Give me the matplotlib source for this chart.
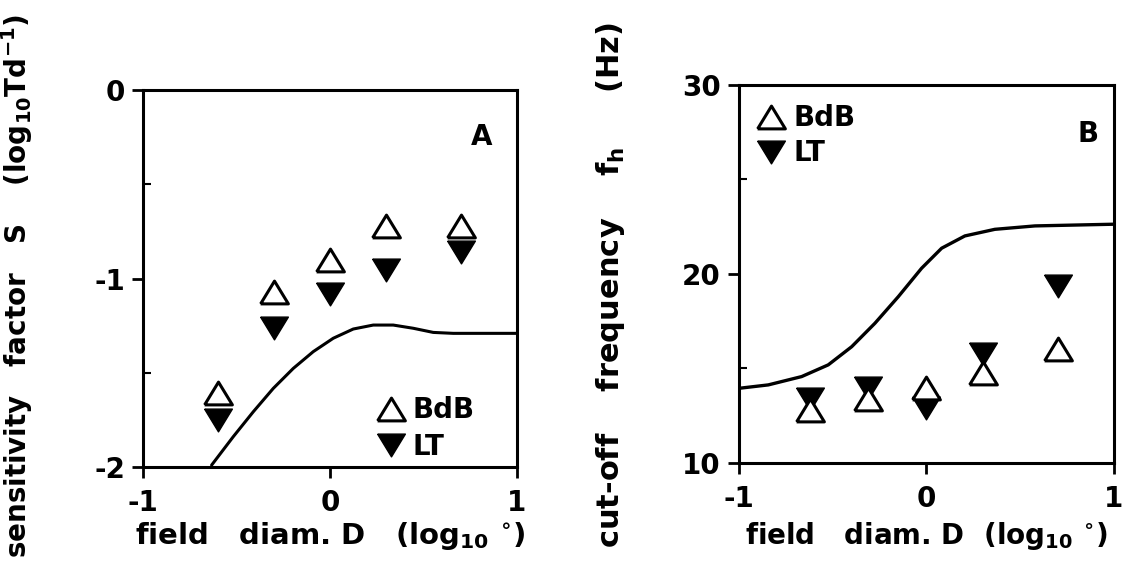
import matplotlib
matplotlib.use("Agg")
import matplotlib.pyplot as plt
from matplotlib.ticker import FixedLocator

plt.rcParams['font.family'] = ['DejaVu Sans']
plt.rcParams['font.weight'] = 'bold'
plt.rcParams['mathtext.fontset'] = 'custom'
plt.rcParams['mathtext.rm'] = 'DejaVu Sans:bold'
plt.rcParams['mathtext.it'] = 'DejaVu Sans:bold'
plt.rcParams['mathtext.bf'] = 'DejaVu Sans:bold'
plt.rcParams['mathtext.default'] = 'rm'

# ---- data ----
x_field = [-0.6, -0.3, 0.0, 0.3, 0.7]

# Panel A: sensitivity factor S
a_bdb = [-1.61, -1.07, -0.90, -0.72, -0.72]
a_lt = [-1.75, -1.26, -1.08, -0.955, -0.86]
a_curve_x = [-0.633, -0.517, -0.41, -0.303, -0.196, -0.089, 0.018, 0.125, 0.232,
             0.339, 0.446, 0.553, 0.66, 1.0]
a_curve_y = [-1.99, -1.839, -1.707, -1.583, -1.477, -1.388, -1.317, -1.268, -1.247,
             -1.247, -1.264, -1.286, -1.291, -1.291]

# Panel B: cut-off frequency
b_x = [-0.62, -0.31, 0.0, 0.30, 0.70]
b_bdb = [12.8, 13.4, 13.95, 14.75, 16.05]
b_lt = [13.4, 13.95, 12.9, 15.75, 19.37]
b_curve_x = [-1.0, -0.844, -0.666, -0.524, -0.399, -0.275, -0.15, -0.026, 0.081,
             0.205, 0.365, 0.579, 1.0]
b_curve_y = [13.95, 14.13, 14.57, 15.19, 16.15, 17.39, 18.8, 20.3, 21.36,
             22.01, 22.36, 22.54, 22.63]

up = [(-1.0, -0.82), (1.0, -0.82), (0.0, 0.82), (-1.0, -0.82)]
down = [(-1.0, 0.82), (1.0, 0.82), (0.0, -0.82), (-1.0, 0.82)]
MS = 20
FS = 20

fig = plt.figure(figsize=(11.29, 5.72), dpi=100)
axA = fig.add_axes([0.1267, 0.1836, 0.331, 0.659])
axB = fig.add_axes([0.6546, 0.1906, 0.332, 0.661])


def style(ax):
    for s in ax.spines.values():
        s.set_linewidth(2.2)
    ax.tick_params(axis='both', which='major', direction='out', length=8, width=2,
                   labelsize=FS, pad=5)
    ax.tick_params(axis='x', which='major', pad=8)
    ax.tick_params(axis='both', which='minor', direction='in', length=6, width=1.5)
    for lab in ax.get_xticklabels() + ax.get_yticklabels():
        lab.set_fontweight('bold')


XLABEL = r'field   diam. D   (log$_{10}$ $^{\circ}$)'

# Panel A
axA.plot(a_curve_x, a_curve_y, color='black', lw=2.2, zorder=2,
         solid_joinstyle='round', solid_capstyle='round')
hA1, = axA.plot(x_field, a_bdb, linestyle='none', marker=up, markersize=MS,
                markerfacecolor='white', markeredgecolor='black', markeredgewidth=2.2,
                label='BdB', zorder=3)
hA2, = axA.plot(x_field, a_lt, linestyle='none', marker=down, markersize=MS,
                markerfacecolor='black', markeredgecolor='black', label='LT', zorder=3)
axA.set_xlim(-1, 1)
axA.set_ylim(-2, 0)
axA.set_xticks([-1, 0, 1])
axA.set_yticks([-2, -1, 0])
axA.yaxis.set_minor_locator(FixedLocator([-1.5, -0.5]))
axA.set_xticklabels(['-1', '0', '1'])
axA.set_yticklabels(['-2', '-1', '0'])
style(axA)
axA.text(0.905, 0.875, 'A', transform=axA.transAxes, fontsize=FS, fontweight='bold',
         ha='center', va='center')
legA = axA.legend(handles=[hA1, hA2], loc='lower right', bbox_to_anchor=(0.94, -0.035),
                  frameon=False, fontsize=FS, handlelength=0.9, handletextpad=0.35,
                  labelspacing=0.3, borderaxespad=0.3, markerscale=1.0)
for t in legA.get_texts():
    t.set_fontweight('bold')
axA.set_xlabel(XLABEL, fontsize=21, fontweight='bold')
axA.xaxis.set_label_coords(0.5, -0.14)
axA.set_ylabel(r'sensitivity   factor   S    (log$_{10}$Td$^{-1}$)', fontsize=20,
               fontweight='bold')
axA.yaxis.set_label_coords(-0.29, 0.48)

# Panel B
axB.plot(b_curve_x, b_curve_y, color='black', lw=2.4, zorder=2,
         solid_joinstyle='round', solid_capstyle='round')
hB1, = axB.plot(b_x, b_bdb, linestyle='none', marker=up, markersize=MS,
                markerfacecolor='white', markeredgecolor='black', markeredgewidth=2.2,
                label='BdB', zorder=3)
hB2, = axB.plot(b_x, b_lt, linestyle='none', marker=down, markersize=MS,
                markerfacecolor='black', markeredgecolor='black', label='LT', zorder=2.5)
axB.set_xlim(-1, 1)
axB.set_ylim(10, 30)
axB.set_xticks([-1, 0, 1])
axB.set_yticks([10, 20, 30])
axB.yaxis.set_minor_locator(FixedLocator([15, 25]))
axB.set_xticklabels(['-1', '0', '1'])
style(axB)
axB.text(0.93, 0.87, 'B', transform=axB.transAxes, fontsize=FS, fontweight='bold',
         ha='center', va='center')
legB = axB.legend(handles=[hB1, hB2], loc='upper left', bbox_to_anchor=(0.0, 1.0),
                  frameon=False, fontsize=FS, handlelength=0.9, handletextpad=0.35,
                  labelspacing=0.25, borderaxespad=0.3, markerscale=1.0)
for t in legB.get_texts():
    t.set_fontweight('bold')
axB.set_xlabel(r'field   diam. D  (log$_{10}$ $^{\circ}$)', fontsize=20, fontweight='bold')
axB.xaxis.set_label_coords(0.5, -0.15)
axB.set_ylabel(r'cut-off    frequency    f$_{h}$     (Hz)', fontsize=22, fontweight='bold')
axB.yaxis.set_label_coords(-0.30, 0.47)

fig.savefig('out.png', dpi=100, facecolor='white')
